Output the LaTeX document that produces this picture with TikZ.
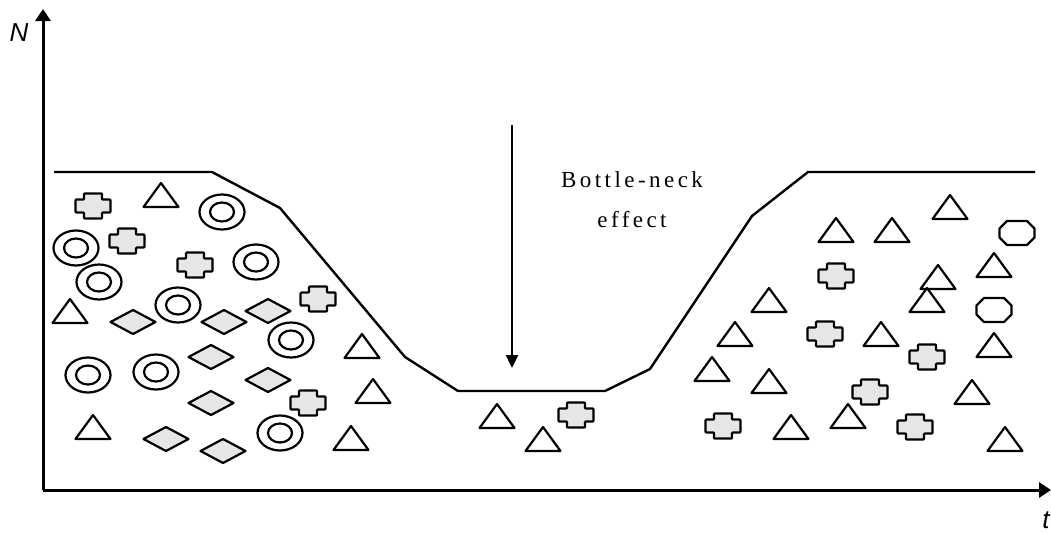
\documentclass[tikz,border=0pt]{standalone}
\usepackage{fontspec}
\setmainfont{Liberation Serif}
\newfontfamily\lsans{Liberation Sans}
\usetikzlibrary{arrows.meta}
\definecolor{shapegray}{HTML}{E6E6E6}
\tikzset{
  outl/.style={line width=2.2pt, line join=round},
  axisline/.style={line width=3pt, -{Triangle[length=12pt,width=15pt]}},
  curveline/.style={line width=2.4pt, line join=round},
  downarrow/.style={line width=2.4pt, -{Triangle[length=13pt,width=12pt]}},
  lbl/.style={font=\lsans\itshape\fontsize{26}{30}\selectfont, inner sep=0pt},
  bntext/.style={font=\addfontfeature{LetterSpace=15}\fontsize{23}{28}\selectfont, inner sep=0pt, anchor=base},
  crossshape/.pic={\draw[outl, fill=shapegray, rounded corners=0.8pt]
     (-9,-12.5) -- (9,-12.5) -- (9,-6.5) -- (17.5,-6.5) -- (17.5,6.5) -- (9,6.5)
     -- (9,12.5) -- (-9,12.5) -- (-9,6.5) -- (-17.5,6.5) -- (-17.5,-6.5) -- (-9,-6.5) -- cycle;},
  triashape/.pic={\draw[outl, fill=white] (-17.5,12) -- (17.5,12) -- (0,-12) -- cycle;},
  ringshape/.pic={\draw[outl] (0,0) ellipse [x radius=22.5, y radius=17.5];
     \draw[outl] (0,0) ellipse [x radius=12, y radius=9.5];},
  diamshape/.pic={\draw[outl, fill=shapegray] (-22.5,0) -- (0,-12) -- (22.5,0) -- (0,12) -- cycle;},
  octshape/.pic={\draw[outl, fill=white] (-10,-12) -- (10,-12) -- (17.5,-4.5) -- (17.5,4.5)
     -- (10,12) -- (-10,12) -- (-17.5,4.5) -- (-17.5,-4.5) -- cycle;}
}
\begin{document}
\begin{tikzpicture}[x=1pt,y=-1pt]
\useasboundingbox (0,0) rectangle (1051,533);
% axes
\coordinate (O) at (43,490);
\coordinate (ytop) at (43,9);
\coordinate (xend) at (1051,490);
\draw[axisline] (O) -- (ytop);
\draw[axisline] (O) -- (xend);
\node[lbl] (Nlab) at (19,33) {N};
\node[lbl] (tlab) at (1046,520) {t};
% population curve
\draw[curveline] (54,172) -- (212,172) -- (280,208) -- (405,357) -- (458,391)
  -- (605,391) -- (650,369) -- (752,216) -- (808,172) -- (1035,172);
% bottleneck arrow
\coordinate (atop) at (512,125);
\coordinate (abot) at (512,368);
\draw[downarrow] (atop) -- (abot);
\node[bntext] (bn1) at (632,187) {Bottle-neck};
\node[bntext] (bn2) at (632,227) {effect};
% shapes
\foreach \p in {(93,206),(127,241),(195,265),(318,299),(308,403),(576,415),
  (836,276),(825,334),(927,357),(870,392),(723,426),(915,427)}
  \pic at \p {crossshape};
\foreach \p in {(161,195),(70,311),(362,346),(373,391),(93,427),(351,438),
  (497,416),(543,439),
  (950,207),(836,230),(892,230),(994,265),(938,277),(927,300),(881,334),(994,345),
  (769,300),(735,334),(712,369),(769,381),(791,427),(848,416),(972,392),(1005,439)}
  \pic at \p {triashape};
\foreach \p in {(222,212),(76,248),(99,282),(256,262),(178,305),(291,340),
  (88,375),(156,372),(280,433)}
  \pic at \p {ringshape};
\foreach \p in {(133,322),(224,322),(268,311),(211,357),(268,380),(211,403),
  (166,439),(223,451)}
  \pic at \p {diamshape};
\foreach \p in {(1017,233),(994,310)}
  \pic at \p {octshape};
\end{tikzpicture}
\end{document}
